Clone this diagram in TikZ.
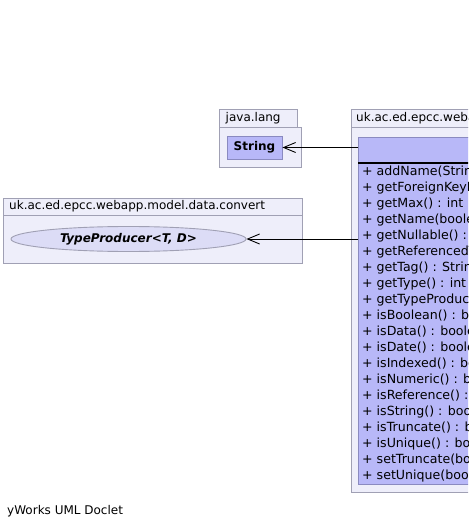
\documentclass[tikz,border=0pt]{standalone}
\usepackage{fontspec}
\setmainfont{DejaVu Sans}
\usetikzlibrary{arrows.meta,shapes.geometric}
\definecolor{pkgfill}{HTML}{EEEEFA}
\definecolor{pkgline}{HTML}{A0A0B4}
\definecolor{clsfill}{HTML}{B8B8F8}
\definecolor{clsline}{HTML}{8A8AC0}
\definecolor{ellfill}{HTML}{DCDCF6}
\tikzset{
  pkg/.style={draw=pkgline,fill=pkgfill,line width=0.9pt},
  txt/.style={font=\fontsize{12pt}{14pt}\selectfont,inner sep=0pt},
  meth/.style={font=\fontsize{12.6pt}{14pt}\selectfont,inner sep=0pt,anchor=base west},
  dep/.style={draw=black,line width=0.9pt,-{Straight Barb[length=12pt,width=10pt,line width=0.9pt]}},
}
\begin{document}
\begin{tikzpicture}[x=1pt,y=-1pt]
\useasboundingbox (0,0) rectangle (468,529);
\clip (0,0) rectangle (468,529);
\fill[white] (0,0) rectangle (468,529);
% java.lang package
\draw[pkg] (219,109) rectangle (297,127);
\draw[pkg] (219,127) rectangle (301,167);
\node[txt,anchor=west] (jl) at (225.5,118.5) {java.lang};
\node[draw=clsline,fill=clsfill,line width=0.9pt,minimum width=55pt,minimum height=23pt,inner sep=0pt,font=\fontsize{12pt}{14pt}\selectfont\bfseries] (str) at (254.5,147.5) {String};
% convert package
\draw[pkg] (3,198) rectangle (302,215);
\draw[pkg] (3,215) rectangle (302,263);
\node[txt,anchor=west] (cv) at (9,206.5) {uk.ac.ed.epcc.webapp.model.data.convert};
\node[ellipse,draw=pkgline,fill=ellfill,line width=0.9pt,minimum width=235pt,minimum height=25pt,inner sep=0pt,font=\fontsize{12pt}{14pt}\selectfont\bfseries\itshape] (tp) at (128.5,239) {TypeProducer<T, D>};
% main package
\draw[pkg] (351,109) rectangle (490,127);
\draw[pkg] (351,127) rectangle (490,492);
\node[txt,anchor=west] (mp) at (356,118.5) {uk.ac.ed.epcc.webapp.model.data.Repository};
\node[draw=clsline,fill=clsfill,line width=0.9pt,minimum width=140pt,minimum height=347pt,inner sep=0pt,anchor=north west] (cls) at (358,137) {};
\draw[black,line width=2pt] (cls.north west) ++(0,26) -- ++(140,0);
\foreach \m [count=\i from 0] in {addName(String) : void,getForeignKeyName() : String,getMax() : int,getName(boolean) : String,getNullable() : boolean,getReferencedTable() : String,getTag() : String,getType() : int,getTypeProducer() : TypeProducer,isBoolean() : boolean,isData() : boolean,isDate() : boolean,isIndexed() : boolean,isNumeric() : boolean,isReference() : boolean,isString() : boolean,isTruncate() : boolean,isUnique() : boolean,setTruncate(boolean) : void,setUnique(boolean) : void}{
  \node[meth] (m\i) at (362,{176+15.95*\i}) {\makebox[14.5pt][l]{+}\m};
}
% dependencies
\draw[dep] (cls.west |- str.east) -- (str.east);
\draw[dep] (cls.west |- tp.east) -- (tp.east);
% footer
\node[txt,anchor=west] (ft) at (7,511) {yWorks UML Doclet};
\end{tikzpicture}
\end{document}
